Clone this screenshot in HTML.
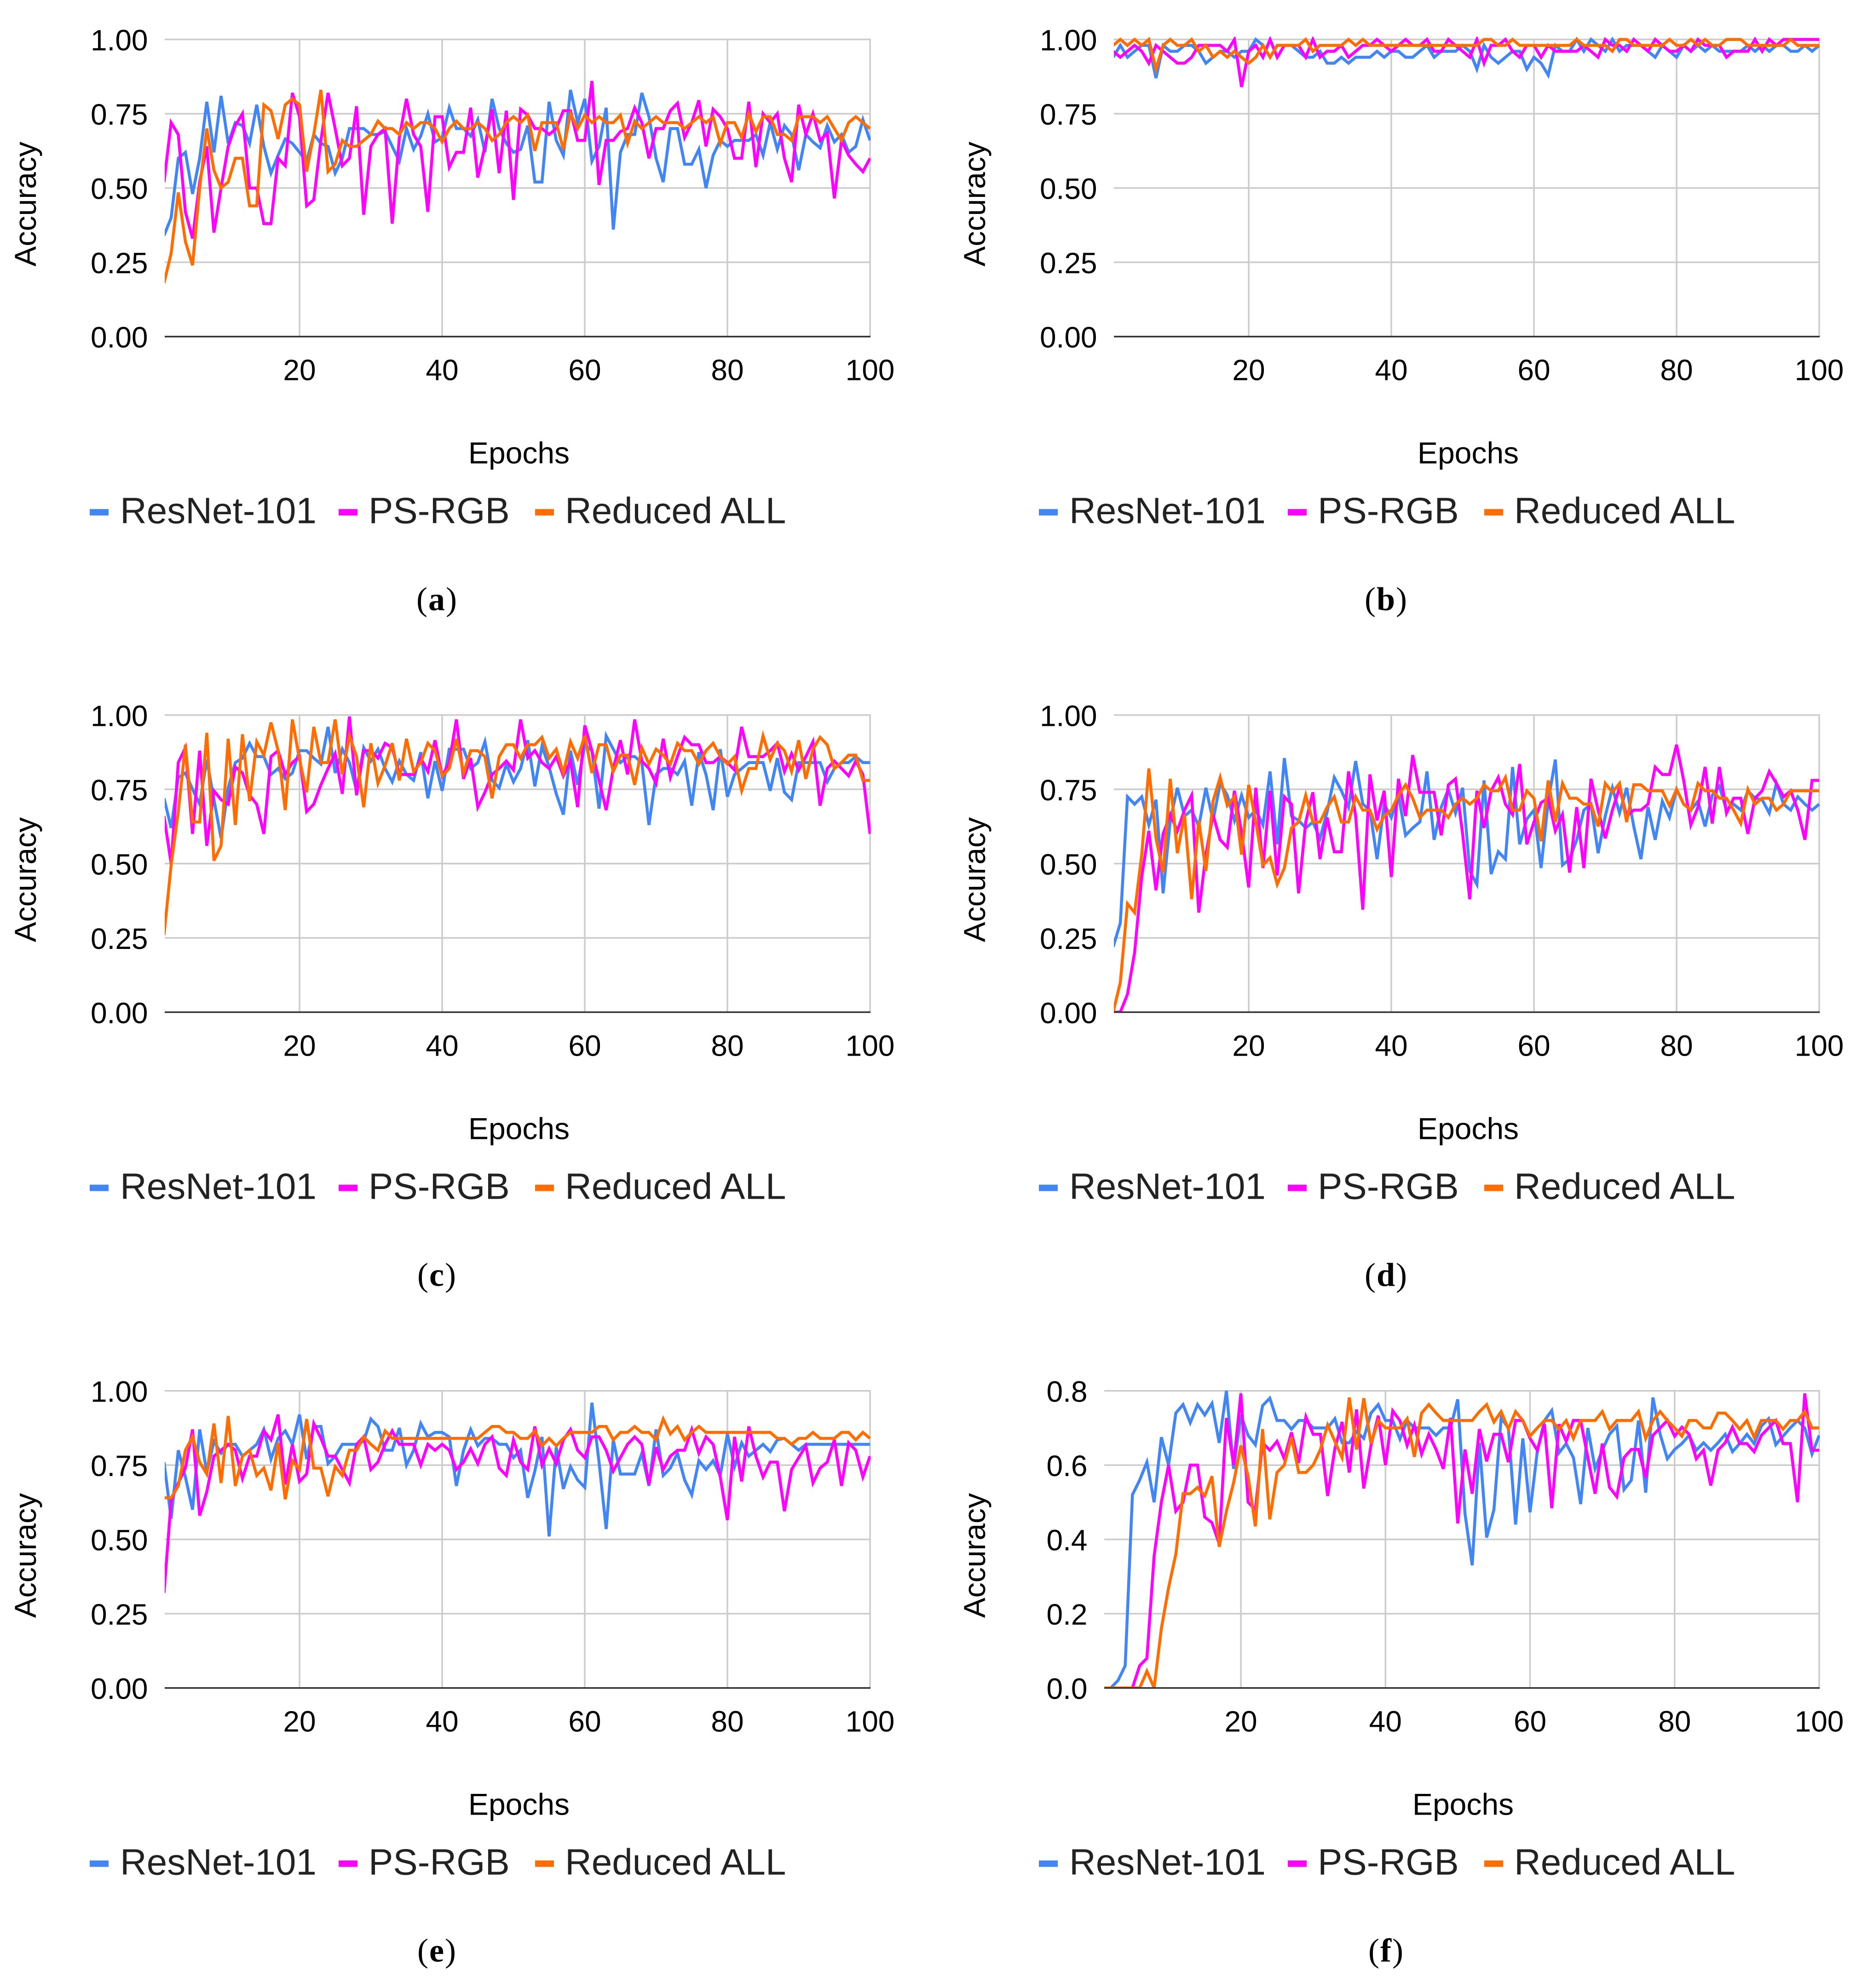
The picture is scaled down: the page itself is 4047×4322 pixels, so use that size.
<!DOCTYPE html>
<html lang="en">
<head>
<meta charset="utf-8">
<title>Accuracy per epoch for ResNet-101, PS-RGB and Reduced ALL</title>
<style>
html,body{margin:0;padding:0;background:#fff}
svg{display:block;font-family:"Liberation Sans",sans-serif}
</style>
</head>
<body>
<svg id="figure" xmlns="http://www.w3.org/2000/svg" width="4047" height="4322" viewBox="0 0 4047 4322"></svg>
<script>
const seriesNames = ["ResNet-101", "PS-RGB", "Reduced ALL"];
const xTicks = [20, 40, 60, 80, 100];
const yTicksUnit = ["0.00", "0.25", "0.50", "0.75", "1.00"];
const yTicksF = ["0.0", "0.2", "0.4", "0.6", "0.8"];
const xTitle = "Epochs";
const yTitle = "Accuracy";

const aResNet = [.34,.40,.60,.62,.48,.60,.79,.62,.81,.65,
.72,.71,.65,.78,.64,.55,.61,.665,.65,.62,
.59,.68,.65,.64,.55,.60,.70,.70,.70,.68,
.68,.69,.64,.59,.70,.63,.675,.75,.655,.67,
.77,.70,.70,.675,.73,.62,.80,.70,.65,.62,
.63,.71,.52,.52,.79,.66,.61,.83,.72,.80,
.59,.64,.77,.36,.62,.68,.68,.82,.74,.60,
.52,.70,.70,.58,.58,.63,.50,.61,.66,.64,
.66,.66,.66,.68,.61,.72,.63,.71,.68,.56,
.68,.655,.635,.71,.655,.68,.62,.64,.73,.66];
const aPsRgb = [.52,.72,.68,.42,.33,.52,.64,.35,.50,.64,
.71,.75,.50,.50,.38,.38,.60,.575,.82,.74,
.44,.46,.66,.82,.70,.575,.60,.775,.41,.64,
.68,.70,.38,.67,.80,.68,.64,.42,.74,.74,
.57,.62,.62,.77,.535,.64,.765,.55,.76,.46,
.765,.745,.70,.70,.68,.70,.76,.76,.66,.66,
.86,.51,.66,.66,.69,.70,.77,.72,.60,.70,
.70,.76,.785,.67,.72,.795,.64,.765,.74,.70,
.60,.60,.79,.57,.75,.72,.75,.60,.52,.78,
.68,.75,.66,.685,.465,.66,.61,.58,.555,.60];
const aReduced = [.18,.28,.485,.32,.24,.50,.70,.56,.50,.52,
.60,.60,.44,.44,.78,.76,.665,.78,.80,.78,
.555,.68,.83,.555,.58,.66,.64,.64,.66,.68,
.725,.70,.70,.68,.72,.70,.72,.72,.70,.655,
.70,.725,.70,.70,.72,.70,.66,.68,.72,.74,
.72,.745,.625,.72,.72,.72,.63,.75,.70,.745,
.72,.74,.72,.72,.745,.65,.725,.70,.72,.74,
.72,.72,.72,.70,.72,.74,.72,.74,.65,.72,
.72,.67,.75,.69,.74,.74,.68,.68,.66,.74,
.74,.74,.72,.74,.70,.66,.72,.74,.72,.70];

const bResNet = [.94,.98,.94,.96,.98,.98,.87,.98,.96,.96,
.98,.98,.96,.92,.94,.96,.96,.94,.96,.96,
1,.98,.94,.98,.98,.98,.96,.94,.94,.96,
.92,.92,.94,.92,.94,.94,.94,.96,.94,.96,
.96,.94,.94,.96,.98,.94,.96,.96,.96,.98,
.96,.90,.98,.94,.92,.94,.96,.96,.90,.94,
.92,.88,.98,.96,.96,1,.96,1,.98,.96,
1,.96,.98,.98,.98,.96,.94,.98,.96,.94,
.98,.96,.98,.96,.98,.96,.96,.96,.96,.98,
.96,.98,.96,.98,.98,.96,.96,.98,.96,.98];
const bPsRgb = [.96,.94,.96,.98,.96,.92,.98,.96,.94,.92,
.92,.94,.98,.98,.98,.98,.96,1,.84,.96,
.98,.94,1,.94,.98,.98,.98,.94,1,.94,
.96,.96,.98,.94,.96,.98,.98,1,.98,.96,
.98,1,.98,.98,1,.96,.96,1,.98,.96,
.94,1,.92,.98,.98,1,.96,.94,.98,.98,
.94,.98,.96,.96,.96,.96,.98,.96,.94,1,
.98,.98,.96,1,.98,.96,1,.98,.96,.96,
.98,.96,1,.98,.98,.98,.94,.96,.96,.96,
1,.96,1,.98,1,1,1,1,1,1];
const bReduced = [.98,1,.98,1,.98,1,.90,.98,1,.98,
.98,1,.96,.98,.94,.96,.94,.96,.94,.92,
.94,.98,.94,.98,.98,.98,.98,1,.96,.98,
.98,.98,.98,1,.98,1,.98,.98,.98,.98,
.98,.98,.98,.98,.98,.98,.98,.98,.98,.98,
.98,.98,1,1,.98,.98,1,.98,.98,.98,
.98,.98,.98,.98,.98,1,.98,.98,.98,.98,
.96,1,1,.98,.98,.98,.98,.98,1,.98,
.98,1,.98,1,.98,.98,1,1,1,.98,
.98,.98,.98,.98,.98,1,.98,.98,.98,.98];

const cResNet = [.72,.62,.79,.805,.75,.70,.85,.715,.585,.755,
.84,.855,.905,.86,.86,.80,.82,.785,.805,.88,
.88,.855,.835,.96,.805,.885,.84,.745,.89,.845,
.885,.82,.775,.845,.80,.78,.875,.72,.845,.745,
.885,.885,.885,.82,.84,.91,.78,.755,.835,.775,
.82,.915,.76,.895,.825,.735,.665,.88,.765,.90,
.88,.685,.93,.885,.84,.86,.86,.84,.63,.80,
.82,.82,.80,.845,.695,.875,.80,.68,.885,.725,
.80,.82,.84,.84,.84,.745,.855,.74,.715,.84,
.84,.84,.84,.775,.82,.84,.84,.86,.84,.84];
const cPsRgb = [.66,.50,.84,.89,.60,.88,.56,.745,.715,.70,
.825,.805,.73,.70,.60,.86,.88,.80,.84,.86,
.675,.70,.765,.82,.87,.735,.995,.73,.88,.88,
.855,.905,.89,.80,.80,.80,.855,.81,.915,.795,
.84,.985,.785,.855,.69,.74,.80,.82,.845,.815,
.985,.855,.88,.84,.82,.86,.795,.845,.69,.965,
.88,.78,.68,.82,.915,.80,.985,.845,.82,.77,
.92,.79,.86,.925,.90,.90,.84,.84,.86,.84,
.815,.96,.86,.86,.86,.88,.905,.81,.87,.815,
.86,.91,.695,.82,.845,.82,.795,.845,.80,.60];
const cReduced = [.26,.495,.675,.90,.64,.64,.94,.51,.56,.92,
.63,.935,.71,.91,.865,.975,.88,.68,.985,.85,
.74,.96,.84,.84,.985,.80,.93,.86,.69,.905,
.77,.83,.905,.78,.92,.81,.84,.905,.88,.795,
.82,.92,.805,.88,.88,.86,.72,.86,.90,.90,
.855,.90,.90,.925,.855,.885,.805,.91,.855,.93,
.805,.90,.90,.81,.865,.865,.765,.89,.835,.885,
.865,.835,.905,.88,.88,.835,.88,.905,.86,.835,
.86,.745,.82,.82,.93,.85,.905,.88,.81,.915,
.785,.885,.925,.90,.82,.84,.865,.865,.78,.78];

const dResNet = [.22,.30,.725,.70,.725,.63,.715,.40,.645,.755,
.66,.68,.625,.755,.645,.77,.73,.645,.73,.655,
.68,.63,.81,.565,.855,.66,.645,.62,.64,.585,
.675,.79,.745,.69,.845,.70,.68,.515,.70,.655,
.73,.595,.62,.64,.81,.58,.69,.75,.67,.755,
.475,.43,.78,.465,.54,.515,.825,.565,.65,.68,
.485,.71,.85,.495,.515,.58,.68,.70,.535,.66,
.755,.67,.755,.625,.515,.69,.58,.71,.655,.75,
.70,.68,.71,.625,.73,.76,.68,.70,.68,.745,
.72,.715,.67,.77,.70,.68,.725,.70,.68,.70];
const dPsRgb = [0,0,.06,.20,.455,.61,.41,.60,.665,.61,
.68,.73,.335,.53,.665,.58,.555,.745,.605,.42,
.755,.485,.745,.46,.725,.70,.40,.64,.74,.515,
.655,.54,.54,.81,.66,.345,.80,.645,.745,.455,
.785,.66,.865,.74,.74,.74,.595,.765,.785,.60,
.38,.745,.62,.745,.79,.70,.665,.835,.565,.64,
.705,.72,.61,.665,.47,.69,.485,.785,.68,.585,
.68,.755,.66,.68,.68,.70,.825,.80,.80,.90,
.78,.63,.69,.825,.635,.825,.67,.72,.72,.60,
.72,.745,.81,.77,.725,.745,.68,.58,.78,.78];
const dReduced = [0,.10,.365,.335,.53,.82,.585,.47,.785,.535,
.665,.38,.645,.475,.71,.79,.695,.725,.53,.765,
.64,.495,.52,.43,.485,.62,.64,.73,.64,.64,
.69,.725,.64,.64,.725,.68,.68,.615,.66,.68,
.73,.765,.72,.655,.68,.68,.68,.655,.70,.72,
.70,.72,.765,.745,.745,.79,.68,.68,.745,.72,
.575,.78,.64,.77,.72,.72,.70,.70,.625,.77,
.74,.77,.64,.765,.765,.745,.745,.745,.695,.75,
.70,.68,.77,.745,.745,.72,.72,.68,.635,.75,
.70,.72,.72,.68,.70,.745,.745,.745,.745,.745];

const eResNet = [.76,.57,.80,.71,.60,.87,.725,.83,.79,.82,
.82,.78,.80,.82,.87,.77,.84,.865,.82,.92,
.77,.88,.88,.755,.78,.82,.82,.82,.83,.905,
.88,.80,.80,.875,.75,.80,.89,.845,.86,.86,
.845,.68,.80,.87,.815,.84,.84,.82,.82,.775,
.80,.64,.73,.845,.51,.81,.67,.745,.70,.675,
.96,.76,.535,.835,.72,.72,.72,.79,.68,.87,
.715,.74,.79,.70,.65,.765,.735,.765,.715,.855,
.745,.825,.78,.80,.82,.795,.835,.84,.82,.80,
.82,.82,.82,.82,.82,.82,.82,.82,.82,.82];
const ePsRgb = [.32,.63,.69,.74,.87,.58,.66,.78,.80,.82,
.80,.705,.78,.78,.865,.835,.92,.685,.82,.695,
.72,.89,.84,.78,.78,.735,.69,.82,.845,.735,
.76,.82,.865,.82,.82,.82,.75,.82,.80,.82,
.80,.735,.76,.805,.755,.82,.845,.74,.715,.835,
.76,.735,.88,.75,.805,.755,.835,.87,.80,.775,
.845,.845,.80,.73,.775,.82,.845,.82,.685,.81,
.735,.78,.80,.80,.87,.79,.845,.82,.71,.565,
.845,.695,.88,.78,.71,.76,.76,.595,.735,.775,
.815,.69,.74,.76,.835,.68,.825,.80,.71,.78];
const eReduced = [.64,.64,.68,.80,.845,.76,.72,.89,.69,.915,
.68,.78,.80,.715,.74,.665,.825,.635,.765,.735,
.905,.74,.74,.645,.745,.715,.80,.80,.845,.82,
.80,.865,.84,.84,.84,.84,.84,.84,.84,.84,
.84,.84,.84,.84,.84,.86,.88,.88,.86,.86,
.84,.84,.865,.815,.84,.815,.84,.86,.86,.86,
.86,.88,.88,.835,.86,.86,.88,.86,.86,.835,
.905,.855,.88,.835,.86,.88,.86,.86,.86,.86,
.86,.86,.86,.86,.86,.86,.84,.84,.82,.84,
.84,.86,.84,.84,.84,.86,.86,.835,.86,.84];

const fResNet = [0,0,.02,.06,.52,.56,.608,.50,.675,.60,
.74,.763,.714,.763,.735,.766,.66,.80,.59,.735,
.68,.655,.76,.78,.72,.72,.697,.72,.72,.70,
.70,.70,.725,.66,.66,.69,.672,.74,.763,.72,
.72,.67,.72,.70,.70,.70,.68,.70,.70,.777,
.47,.33,.66,.405,.48,.727,.70,.44,.672,.473,
.636,.72,.747,.633,.658,.62,.495,.70,.59,.64,
.683,.705,.534,.559,.72,.526,.782,.683,.617,.642,
.658,.68,.64,.66,.64,.66,.683,.636,.658,.683,
.658,.705,.725,.655,.678,.70,.72,.70,.63,.68];
const fPsRgb = [0,0,0,0,0,.06,.08,.355,.50,.60,
.476,.50,.60,.60,.46,.445,.388,.727,.60,.793,
.50,.48,.66,.64,.664,.617,.688,.606,.73,.683,
.683,.517,.644,.716,.58,.75,.537,.653,.733,.60,
.746,.72,.653,.708,.63,.683,.642,.59,.727,.443,
.642,.523,.697,.61,.683,.683,.608,.72,.72,.672,
.64,.71,.484,.71,.664,.72,.72,.62,.523,.658,
.54,.515,.62,.642,.642,.567,.68,.70,.72,.678,
.702,.683,.617,.64,.545,.64,.66,.702,.658,.658,
.636,.68,.70,.72,.658,.658,.50,.793,.64,.64];
const fReduced = [0,0,0,0,0,0,.045,0,.16,.27,
.36,.523,.523,.54,.517,.57,.38,.476,.553,.653,
.57,.435,.697,.454,.58,.60,.675,.58,.58,.60,
.642,.708,.664,.62,.782,.642,.78,.658,.72,.70,
.70,.70,.725,.622,.74,.763,.74,.72,.72,.72,
.72,.72,.744,.763,.716,.744,.697,.744,.72,.678,
.70,.72,.72,.697,.72,.672,.72,.72,.72,.744,
.697,.72,.72,.72,.744,.672,.72,.744,.72,.70,
.678,.72,.72,.70,.70,.74,.74,.72,.697,.72,
.675,.72,.72,.72,.697,.72,.72,.744,.70,.70];

const NS = "http://www.w3.org/2000/svg";
const svg = document.getElementById("figure");
const colors = ["#4285F4", "#FF00FF", "#FF6D01"];

function make(parent, tag, attrs, content) {
  const n = document.createElementNS(NS, tag);
  for (const k in attrs) n.setAttribute(k, attrs[k]);
  if (content !== undefined) n.textContent = content;
  parent.appendChild(n);
  return n;
}

function drawPanel(p) {
  const plotW = p.right - p.left;
  const plotH = 646;
  const bottom = p.top + plotH;
  const xScale = e => p.left + (e - 1) * plotW / 99;
  const yScale = v => bottom - (v / p.yMax) * plotH;
  const clipLeft = p.left + 1.5;

  const g = make(svg, "g", {});
  
  

  const clipId = "clip-" + p.id;
  const defs = make(g, "defs", {});
  const clip = make(defs, "clipPath", { id: clipId });
  make(clip, "rect", { x: clipLeft, y: p.top - 6, width: p.right - clipLeft + 1.5, height: plotH + 6 });

  p.yTicks.forEach((label, i) => {
    const y = bottom - i * plotH / (p.yTicks.length - 1);
    if (i > 0) {
      const grid = make(g, "line", { x1: clipLeft, x2: p.right + 1.7, y1: y, y2: y, stroke: "#CCCCCC", "stroke-width": 3.5 });
      
      
    }
    const tick = make(g, "text", { x: p.left - 35, y: y + 24, "text-anchor": "end", "font-size": 64, fill: "#000" }, label);
    
    
  });

  xTicks.forEach(t => {
    const x = xScale(t);
    const grid = make(g, "line", { x1: x, x2: x, y1: p.top, y2: bottom, stroke: "#CCCCCC", "stroke-width": 3.5 });
    
    
    const tick = make(g, "text", { x: x, y: bottom + 95, "text-anchor": "middle", "font-size": 64, fill: "#000" }, String(t));
    
    
  });

  p.series.forEach((values, s) => {
    const pts = values.map((v, i) => xScale(i + 1).toFixed(1) + "," + yScale(v).toFixed(1)).join(" ");
    const line = make(g, "polyline", {
      points: pts, fill: "none", stroke: colors[s], "stroke-width": 6.5,
      "stroke-linejoin": "miter", "stroke-miterlimit": 4, "clip-path": "url(#" + clipId + ")"
    });
    
    
  });

  const axis = make(g, "line", { x1: clipLeft, x2: p.right + 1, y1: bottom, y2: bottom, stroke: "#333333", "stroke-width": 3.5 });
  
  

  const xt = make(g, "text", { x: p.titleX, y: p.top + 922, "text-anchor": "middle", "font-size": 66, fill: "#000" }, xTitle);
  
  

  const yt = make(g, "text", { transform: "translate(" + (p.ox + 78) + " " + (p.top + 358) + ") rotate(-90)", "text-anchor": "middle", "font-size": 66, fill: "#000" }, yTitle);
  
  

  const legendSwatchX = [195, 736, 1163];
  const legendTextX = [261, 801, 1228];
  seriesNames.forEach((name, s) => {
    const entry = make(g, "g", {});
    
    
    const sw = make(entry, "rect", { x: p.ox + legendSwatchX[s], y: p.top + 1021, width: 41, height: 14, fill: colors[s] });
    
    
    const lt = make(entry, "text", { x: p.ox + legendTextX[s], y: p.top + 1052, "font-size": 80, fill: "#222" }, name);
    
    
  });

  const cap = make(g, "text", { x: p.ox + 950, y: p.top + 1241, "text-anchor": "middle", "font-size": 72, fill: "#000", "font-family": '"Liberation Serif", serif', "letter-spacing": 2 });
  
  
  make(cap, "tspan", {}, "(");
  make(cap, "tspan", { "font-weight": "bold" }, p.id);
  make(cap, "tspan", {}, ")");
}

drawPanel({ id: "a", ox: 0, left: 356.5, right: 1891, top: 85.7, yMax: 1, yTicks: yTicksUnit, titleX: 1128, series: [aResNet, aPsRgb, aReduced] });
drawPanel({ id: "b", ox: 2063, left: 2419.5, right: 3954, top: 85.7, yMax: 1, yTicks: yTicksUnit, titleX: 3191, series: [bResNet, bPsRgb, bReduced] });
drawPanel({ id: "c", ox: 0, left: 356.5, right: 1891, top: 1554.5, yMax: 1, yTicks: yTicksUnit, titleX: 1128, series: [cResNet, cPsRgb, cReduced] });
drawPanel({ id: "d", ox: 2063, left: 2419.5, right: 3954, top: 1554.5, yMax: 1, yTicks: yTicksUnit, titleX: 3191, series: [dResNet, dPsRgb, dReduced] });
drawPanel({ id: "e", ox: 0, left: 356.5, right: 1891, top: 3023.7, yMax: 1, yTicks: yTicksUnit, titleX: 1128, series: [eResNet, ePsRgb, eReduced] });
drawPanel({ id: "f", ox: 2063, left: 2398.5, right: 3954, top: 3023.7, yMax: 0.8, yTicks: yTicksF, titleX: 3180, series: [fResNet, fPsRgb, fReduced] });
</script>
</body>
</html>
